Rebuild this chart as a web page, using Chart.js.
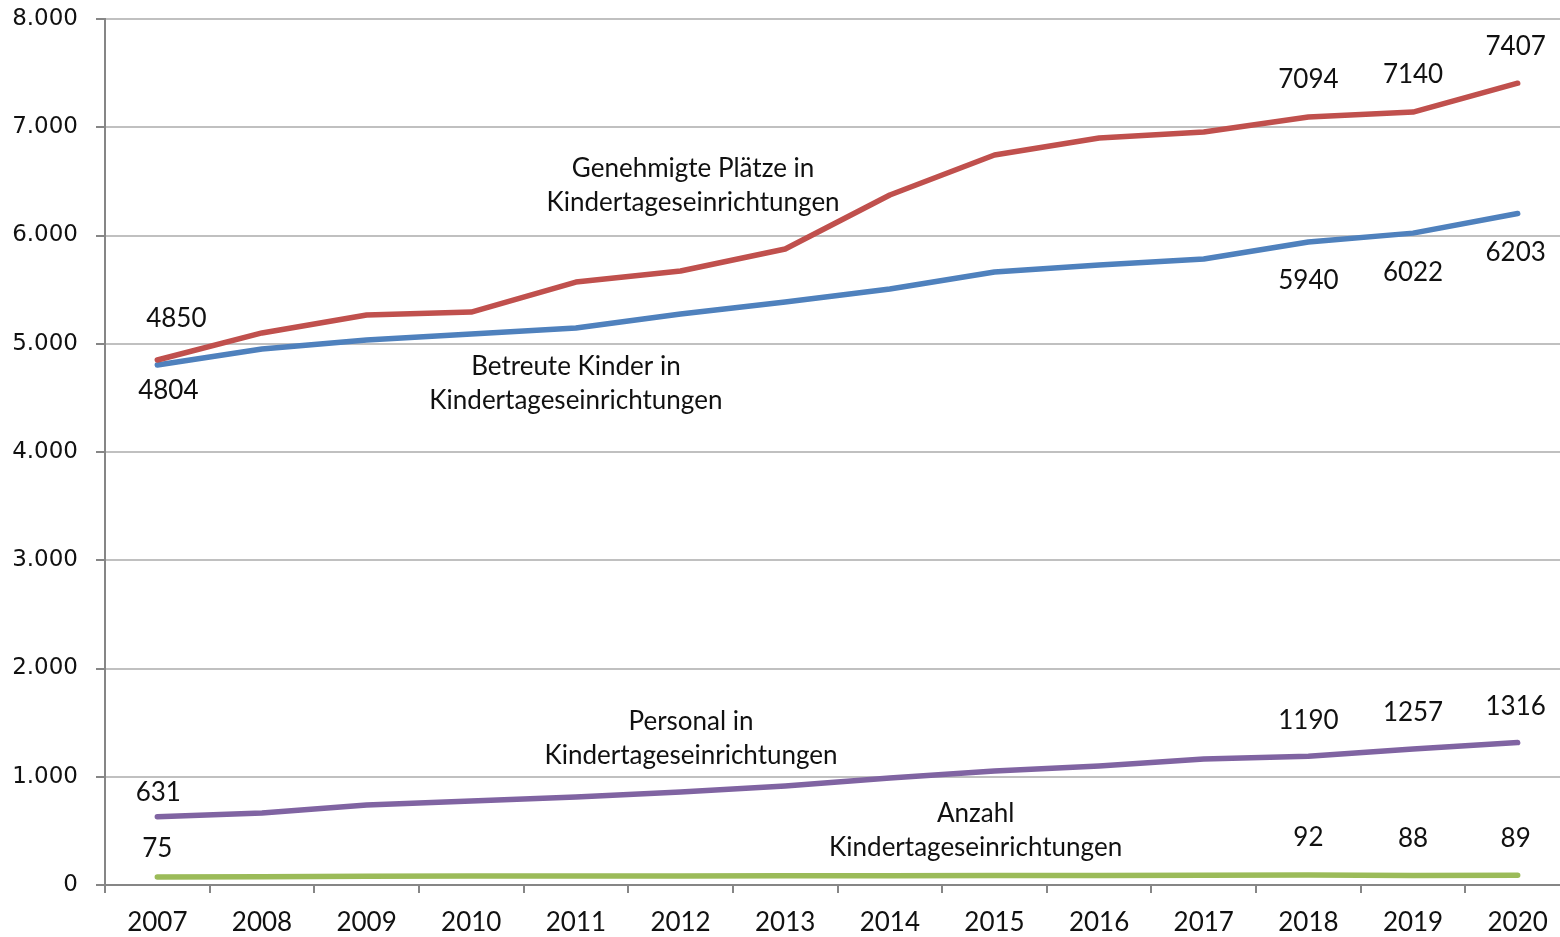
<!DOCTYPE html>
<html>
<head>
<meta charset="utf-8">
<script src="https://cdn.jsdelivr.net/npm/chart.js@4/dist/chart.umd.min.js"></script>
<style>
  html, body { margin: 0; padding: 0; background: #fff; overflow: hidden; }
  #wrap { width: 1570px; height: 937px; position: relative; }
</style>
</head>
<body>
<div id="wrap"><canvas id="chart"></canvas></div>
<script>
const years = ['2007','2008','2009','2010','2011','2012','2013','2014','2015','2016','2017','2018','2019','2020'];
const plaetze = [4850, 5100, 5265, 5293, 5570, 5672, 5875, 6374, 6744, 6901, 6956, 7094, 7140, 7407];
const kinder = [4804, 4951, 5035, 5090, 5145, 5275, 5386, 5506, 5663, 5727, 5783, 5940, 6022, 6203];
const personal = [631, 665, 739, 776, 813, 859, 915, 988, 1053, 1099, 1164, 1190, 1257, 1316];
const anzahl = [75, 77, 80, 82, 83, 84, 85, 86, 87, 88, 90, 92, 88, 89];
const yTicks = [0, 1000, 2000, 3000, 4000, 5000, 6000, 7000, 8000];

// which points carry a value label
const labelled = [0, 11, 12, 13];

// series captions: [x index, y value, lines]
const captions = [
  [5.12, 6620, ['Genehmigte Plätze in', 'Kindertageseinrichtungen']],
  [4.0, 4785, ['Betreute Kinder in', 'Kindertageseinrichtungen']],
  [5.1, 1506, ['Personal in', 'Kindertageseinrichtungen']],
  [7.82, 656, ['Anzahl', 'Kindertageseinrichtungen']]
];

const fmt = v => v === 0 ? '0' : v.toLocaleString('de-DE');

const labelPlugin = {
  id: 'labels',
  afterDatasetsDraw(chart) {
    const ctx = chart.ctx;
    const x = chart.scales.x, y = chart.scales.y;
    ctx.save();
    ctx.font = '26px Lato';
    ctx.fillStyle = '#111';
    ctx.textAlign = 'center';
    ctx.textBaseline = 'middle';
    // value labels: dy offset per dataset (negative = above)
    const offs = [-37, 39, -36, -37];
    chart.data.datasets.forEach((ds, di) => {
      const meta = chart.getDatasetMeta(di);
      labelled.forEach(i => {
        const pt = meta.data[i];
        let dx = i === 13 ? -2 : 0;
        let dy = offs[di];
        if (i === 0) {
          if (di === 0) { dx = 19; dy = -41; }
          if (di === 1) { dx = 11; dy = 26; }
          if (di === 2) { dx = 1; dy = -24; }
          if (di === 3) { dy = -28; }
        }
        ctx.fillText(String(ds.data[i]), pt.x + dx, pt.y + dy);
      });
    });
    captions.forEach(c => {
      const px = x.getPixelForValue(c[0]);
      const py = y.getPixelForValue(c[1]);
      c[2].forEach((t, k) => ctx.fillText(t, px, py + k * 34));
    });
    ctx.restore();
  }
};

const line = (data, color) => ({
  data,
  borderColor: color,
  backgroundColor: color,
  borderWidth: 5.5,
  borderCapStyle: 'round',
  borderJoinStyle: 'round',
  pointRadius: 0,
  tension: 0,
  fill: false
});

new Chart(document.getElementById('chart'), {
  type: 'line',
  data: {
    labels: years,
    datasets: [
      line(plaetze, '#c0504d'),
      line(kinder, '#4f81bd'),
      line(personal, '#8064a2'),
      line(anzahl, '#9bbb59')
    ]
  },
  options: {
    responsive: true,
    maintainAspectRatio: false,
    animation: false,
    layout: { padding: { top: 19, right: 0, left: 0, bottom: 0 } },
    plugins: { legend: { display: false }, tooltip: { enabled: false } },
    scales: {
      x: {
        offset: true,
        grid: { offset: true, drawOnChartArea: false, drawTicks: true, tickLength: 8, color: '#868686', lineWidth: 2 },
        border: { color: '#868686', width: 2 },
        ticks: { color: '#111', font: { family: 'Lato', size: 26 }, padding: 14, maxRotation: 0 },
        afterFit: s => { s.height = 52; }
      },
      y: {
        min: 0,
        max: 8000,
        afterBuildTicks: s => { s.ticks = yTicks.map(v => ({ value: v })); },
        grid: { color: '#c0c0c0', lineWidth: 2, tickLength: 9, tickColor: '#868686' },
        border: { color: '#868686', width: 2 },
        ticks: { color: '#111', font: { family: 'DejaVu Sans', size: 23 }, padding: 18, callback: v => fmt(v) },
        afterFit: s => { s.width = 105; s.paddingTop = 0; s.paddingBottom = 0; }
      }
    }
  },
  plugins: [labelPlugin]
});
</script>
</body>
</html>
